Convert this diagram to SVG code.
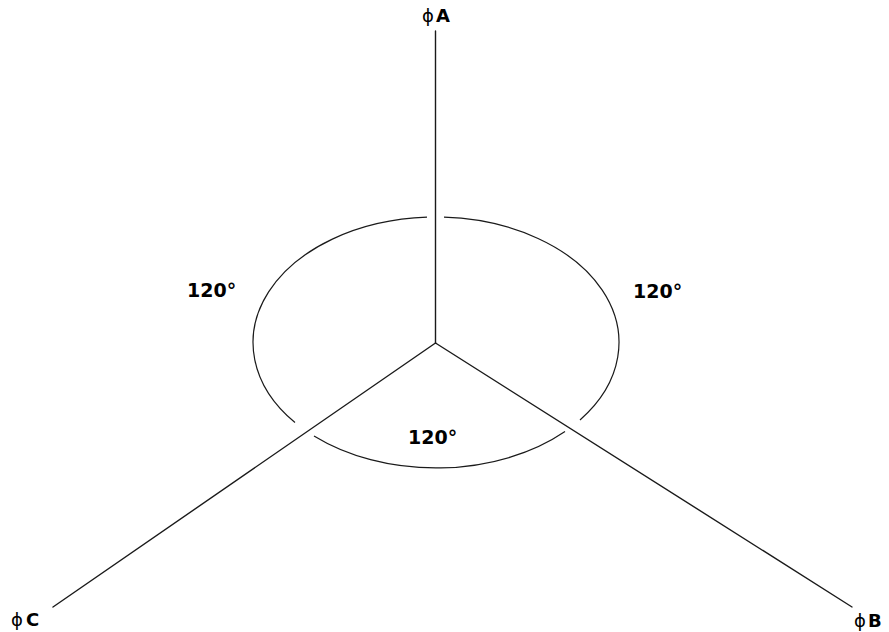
<svg xmlns="http://www.w3.org/2000/svg" width="889" height="632" viewBox="0 0 889 632">
<style>
.ln{stroke:#1a1a1a;stroke-width:1.4;fill:none;stroke-linecap:round}
.arc{stroke:#1a1a1a;stroke-width:1.2;fill:none}
.lbl{font-family:"DejaVu Sans","Liberation Sans",sans-serif;font-weight:bold;font-size:18px;fill:#000}
.ph{font-weight:normal}
.deg{font-family:"DejaVu Sans","Liberation Sans",sans-serif;font-weight:bold;font-size:19px;fill:#000}
</style>
<rect width="889" height="632" fill="#fff"/>
<g id="connectors">
<line class="ln" x1="435.5" y1="31" x2="435.5" y2="343"/>
<line class="ln" x1="435.5" y1="343" x2="53" y2="607"/>
<line class="ln" x1="435.5" y1="343" x2="852" y2="607"/>
</g>
<g id="angle-circle">
<path class="arc" d="M444,217.2 A183,125.5 0 0 1 580,420"/>
<path class="arc" d="M565,431.5 A183,125.5 0 0 1 314,436"/>
<path class="arc" d="M295,422.5 A183,125.5 0 0 1 427,217.2"/>
</g>
<g id="phaseA"><text x="422" y="22" class="lbl"><tspan class="ph">ϕ</tspan><tspan dx="2">A</tspan></text></g>
<g id="phaseC"><text x="11" y="626" class="lbl"><tspan class="ph">ϕ</tspan><tspan dx="3">C</tspan></text></g>
<g id="phaseB"><text x="854" y="627" class="lbl"><tspan class="ph">ϕ</tspan><tspan dx="2">B</tspan></text></g>
<g id="angle-left"><text x="187" y="297" class="deg">120°</text></g>
<g id="angle-right"><text x="633" y="298" class="deg">120°</text></g>
<g id="angle-bottom"><text x="408" y="444" class="deg">120°</text></g>
</svg>
